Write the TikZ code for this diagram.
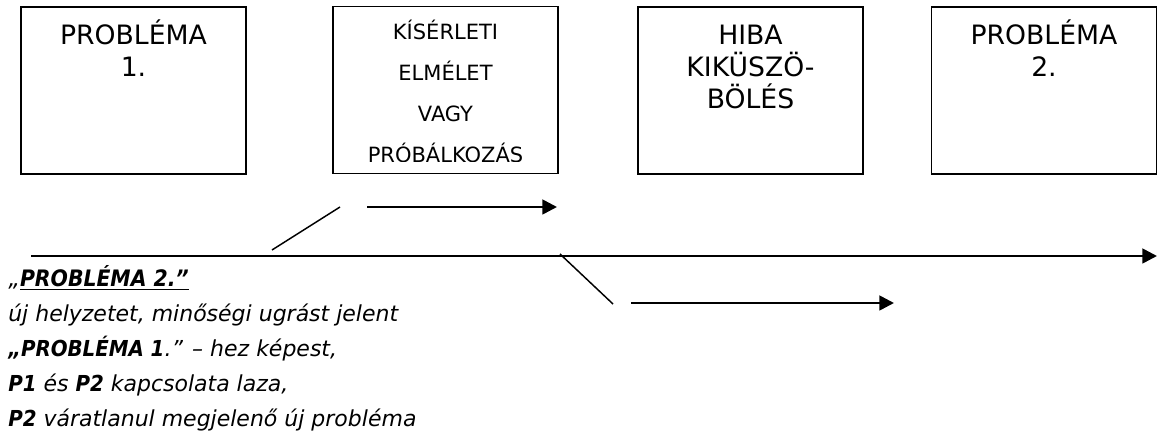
\documentclass[tikz,border=0pt]{standalone}
\usepackage{fontspec}
\setmainfont{DejaVu Sans}
\newfontfamily\noteboldfont{DejaVu Sans}[FakeStretch=0.9]
\newcommand{\notebf}[1]{{\noteboldfont\bfseries\itshape #1}}
\usetikzlibrary{arrows.meta}
\begin{document}
\begin{tikzpicture}[x=0.75pt,y=-0.75pt,
  box/.style={draw,line width=1.1pt,minimum width=168.75pt,minimum height=125.25pt,inner sep=0pt},
  bigtxt/.style={font=\fontsize{20pt}{24pt}\selectfont,align=center,anchor=base,inner sep=0pt},
  smalltxt/.style={font=\fontsize{15.75pt}{30.75pt}\selectfont,align=center,anchor=base,inner sep=0pt},
  arr/.style={line width=2pt,-{Triangle[length=11pt,width=11pt]}},
  tick/.style={line width=1.1pt},
  note/.style={font=\fontsize{16.5pt}{26.25pt}\selectfont\itshape,align=left,anchor=base west,inner sep=0pt}]
\useasboundingbox (0,0) rectangle (1157,441);
% boxes
\node[box] (b1) at (133.5,90.5) {};
\node[box] (b2) at (445.5,90) {};
\node[box] (b3) at (750.5,90.5) {};
\node[box] (b4) at (1044,90.5) {};
% box texts (anchored at the baseline of their last line)
\node[bigtxt] (t1) at (133.5,77) {PROBLÉMA\\1.};
\begin{scope}
  \clip (333,7) rectangle (558,162);
  \node[smalltxt] (t2) at (445.5,163) {KÍSÉRLETI\\ELMÉLET\\VAGY\\PRÓBÁLKOZÁS};
\end{scope}
\node[bigtxt] (t3) at (750.5,109) {HIBA\\KIKÜSZÖ-\\BÖLÉS};
\node[bigtxt] (t4) at (1044,77) {PROBLÉMA\\2.};
% time axis and branches
\coordinate (axs) at (31,256);
\coordinate (axe) at (1157,256);
\coordinate (d1a) at (272,250);
\coordinate (d1b) at (340,207);
\coordinate (u1) at (367,207);
\coordinate (u2) at (557,207);
\coordinate (d2a) at (560,254);
\coordinate (d2b) at (613,304);
\coordinate (l1) at (631,303);
\coordinate (l2) at (894,303);
\draw[arr] (axs) -- (axe);
\draw[tick] (d1a) -- (d1b);
\draw[arr] (u1) -- (u2);
\draw[tick] (d2a) -- (d2b);
\draw[arr] (l1) -- (l2);
% note
\node[note] (txt) at (8,427) {{\fontsize{17pt}{26.25pt}\selectfont „\notebf{\underline{PROBLÉMA 2.”}}}\\új helyzetet, minőségi ugrást jelent\\\notebf{„PROBLÉMA 1}.” – hez képest,\\\notebf{P1} és \notebf{P2} kapcsolata laza,\\\notebf{P2} váratlanul megjelenő új probléma};
\end{tikzpicture}
\end{document}
